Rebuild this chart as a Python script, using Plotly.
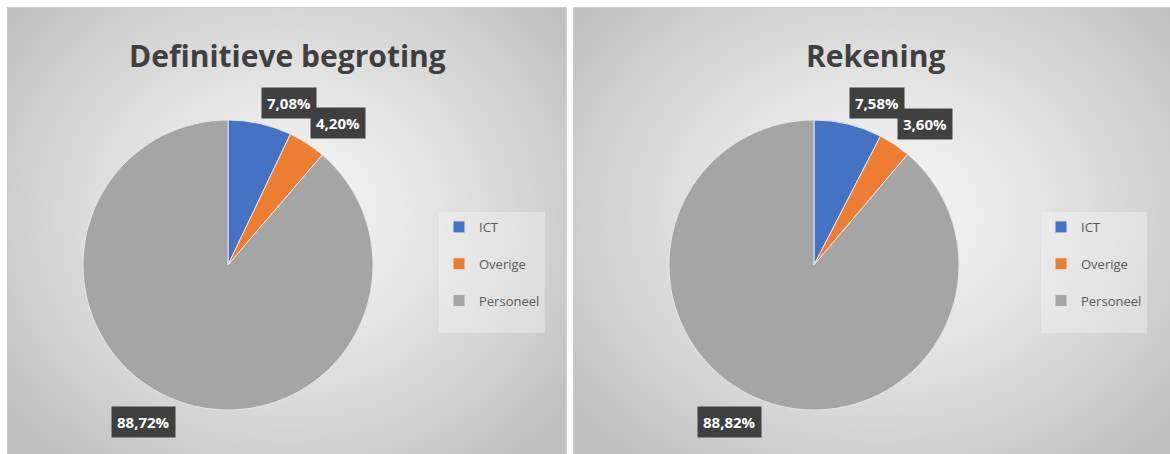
import base64, math, struct, zlib
import numpy as np
import plotly.graph_objects as go

# ---------------- data ----------------
categories = ["ICT", "Overige", "Personeel"]
begroting_values = [7.08, 4.20, 88.72]
rekening_values = [7.58, 3.60, 88.82]
titles = ["Definitieve begroting", "Rekening"]
colors = ["#4472C4", "#ED7D31", "#A5A5A5"]

W, H = 1170, 454

# ---------------- background (radial gradient panels) ----------------
def make_bg():
    img = np.full((H, W, 3), 255.0)
    yy, xx = np.mgrid[0:H, 0:W].astype(float)
    panels = [(7, 7, 566, 470), (573, 7, 1185, 470)]
    for (x0, y0, x1, y1) in panels:
        cx, cy = (x0 + x1) / 2, 215.0
        hx, hy = (x1 - x0) / 2, 250.0
        d = np.sqrt(((xx - cx) / hx) ** 2 + ((yy - cy) / hy) ** 2)
        val = 246 - 40 * np.clip(d, 0, 1.25) ** 1.3
        m = (xx >= x0) & (xx <= x1) & (yy >= y0) & (yy <= y1)
        img[m] = val[m][:, None]
        border = m & ((xx == x0) | (xx == x1) | (yy == y0))
        img[border] = 205
    img = np.clip(img, 0, 255).astype(np.uint8)
    raw = b"".join(b"\x00" + img[r].tobytes() for r in range(H))

    def chunk(tag, data):
        c = struct.pack(">I", len(data)) + tag + data
        return c + struct.pack(">I", zlib.crc32(tag + data) & 0xFFFFFFFF)

    png = b"\x89PNG\r\n\x1a\n" + chunk(b"IHDR", struct.pack(">IIBBBBB", W, H, 8, 2, 0, 0, 0))
    png += chunk(b"IDAT", zlib.compress(raw, 9)) + chunk(b"IEND", b"")
    return "data:image/png;base64," + base64.b64encode(png).decode()

# ---------------- layout constants ----------------
pie_centers = [(228, 265), (814, 265)]
pie_r = 145
title_pos = [(287, 56), (875, 56)]
legend_pos = [(439, 212), (1041, 212)]

def px(x):
    return x / W

def py(y):
    return 1 - y / H

fig = go.Figure()
legend_names = ["legend", "legend2"]
suffixes = ["<br>\u00a0", "<br>\u00a0\u00a0"]
annotations = []
for i, vals in enumerate([begroting_values, rekening_values]):
    cx, cy = pie_centers[i]
    fig.add_trace(go.Pie(
        labels=[c + suffixes[i] for c in categories],
        values=vals,
        sort=False,
        direction="clockwise",
        rotation=0,
        marker=dict(colors=colors, line=dict(color="#e6e6e6", width=1)),
        textinfo="none",
        hoverinfo="label+percent",
        domain=dict(x=[px(cx - pie_r), px(cx + pie_r)], y=[py(cy + pie_r), py(cy - pie_r)]),
        legend=legend_names[i],
        showlegend=True,
    ))
    # data labels derived from slice angles
    total = sum(vals)
    cum = 0.0
    for v in vals:
        mid = (cum + v / 2) / total * 2 * math.pi
        cum += v
        r = pie_r + 5
        lx = cx + r * math.sin(mid)
        ly = cy - r * math.cos(mid)
        annotations.append(dict(
            x=px(lx), y=py(ly), xref="paper", yref="paper",
            text="<b>" + f"{v:.2f}".replace(".", ",") + "%</b>",
            showarrow=False,
            xanchor="left" if math.sin(mid) >= 0 else "right",
            yanchor="bottom" if math.cos(mid) >= 0 else "top",
            bgcolor="#404040", borderpad=5,
            font=dict(family="Open Sans", size=15, color="white"),
        ))
    tx, ty = title_pos[i]
    annotations.append(dict(
        x=px(tx), y=py(ty), xref="paper", yref="paper",
        text="<b>" + titles[i] + "</b>", showarrow=False,
        xanchor="center", yanchor="middle",
        font=dict(family="Open Sans", size=30, color="#404040"),
    ))

leg_common = dict(
    xanchor="left", yanchor="top",
    bgcolor="rgba(250,250,250,0.35)",
    font=dict(family="Open Sans", size=13, color="#595959"),
    valign="top", itemclick=False, itemdoubleclick=False,
)
fig.update_layout(
    width=W, height=H,
    margin=dict(l=0, r=0, t=0, b=0),
    paper_bgcolor="white",
    images=[dict(source=make_bg(), xref="paper", yref="paper", x=0, y=1,
                 sizex=1, sizey=1, sizing="stretch", layer="below",
                 xanchor="left", yanchor="top")],
    annotations=annotations,
    legend=dict(x=px(legend_pos[0][0]), y=py(legend_pos[0][1]), **leg_common),
    legend2=dict(x=px(legend_pos[1][0]), y=py(legend_pos[1][1]), **leg_common),
)

fig.write_html("out.html", config={"displayModeBar": False},
               post_script="document.body.style.margin='0';")
